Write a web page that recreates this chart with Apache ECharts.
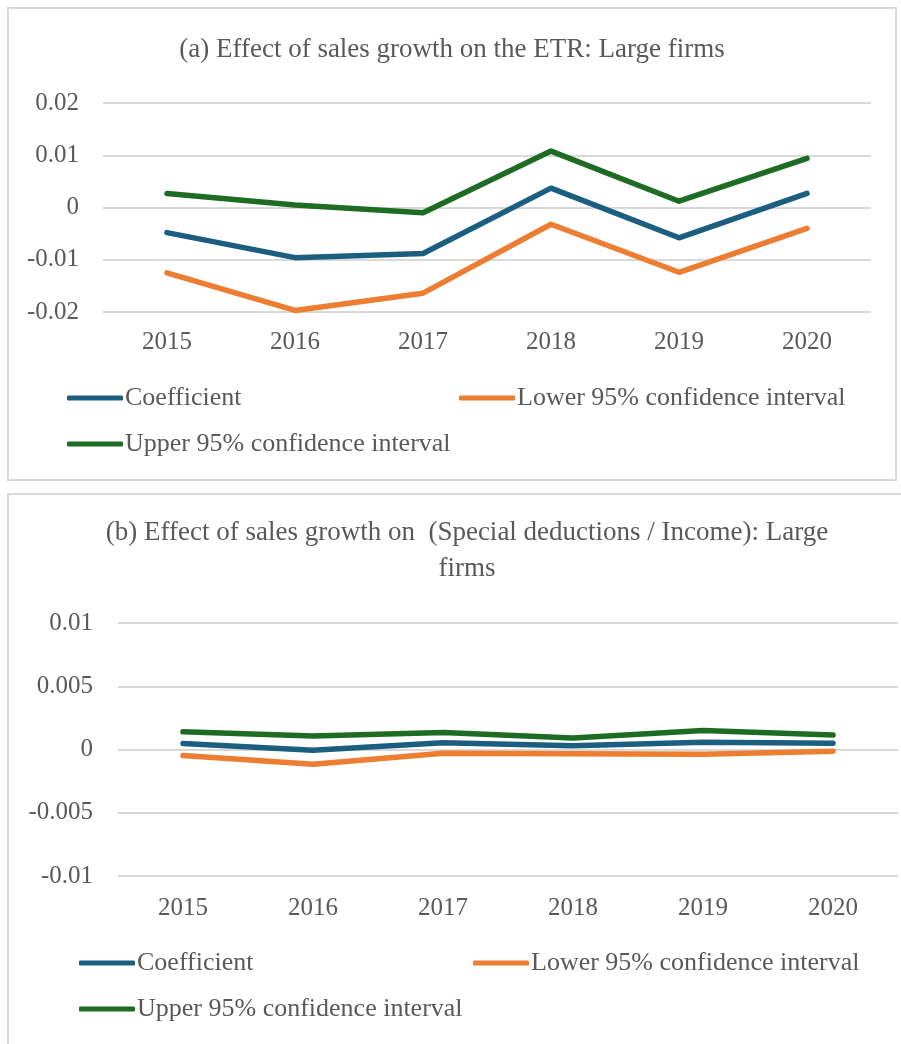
<!DOCTYPE html>
<html>
<head>
<meta charset="utf-8">
<script src="https://cdn.jsdelivr.net/npm/echarts@6/dist/echarts.min.js"></script>
<style>
  * { margin: 0; padding: 0; }
  body { width: 901px; height: 1044px; overflow: hidden; background: #fff; position: relative; }
  .box { position: absolute; border: 2px solid #d9d9d9; box-sizing: border-box; background: #fff; }
</style>
</head>
<body>
<div id="chartA" class="box" style="left: 7px; top: 7px; width: 890px; height: 474px;"></div>
<div id="chartB" class="box" style="left: 7px; top: 493px; width: 920px; height: 580px;"></div>
<script>
  const years = ['2015', '2016', '2017', '2018', '2019', '2020']
  const seriesNames = ['Coefficient', 'Lower 95% confidence interval', 'Upper 95% confidence interval']
  const colors = ['#1b5e80', '#ed7d31', '#1e6b24']

  // (a) ETR
  const etrCoef = [-0.0048, -0.0096, -0.0088, 0.0037, -0.0058, 0.0027]
  const etrLower = [-0.0125, -0.0197, -0.0164, -0.0032, -0.0124, -0.0040]
  const etrUpper = [0.0027, 0.0005, -0.0010, 0.0108, 0.0012, 0.0094]

  // (b) Special deductions / Income
  const dedCoef = [0.00048, -0.00005, 0.00053, 0.00030, 0.00058, 0.00050]
  const dedLower = [-0.00048, -0.00116, -0.00030, -0.00034, -0.00037, -0.00013]
  const dedUpper = [0.00140, 0.00106, 0.00135, 0.00090, 0.00150, 0.00114]

  const font = '"Liberation Serif", "DejaVu Serif", serif'
  const grey = '#595959'

  function legends(left1, left2, top1, top2) {
    const base = {
      icon: 'roundRect',
      itemWidth: 56,
      itemHeight: 5,
      itemGap: 0,
      textStyle: {fontFamily: font, fontSize: 26, color: grey, padding: [0, 0, 0, -3]}
    }
    return [
      Object.assign({data: [seriesNames[0]], left: left1, top: top1}, base),
      Object.assign({data: [seriesNames[1]], left: left2, top: top1}, base),
      Object.assign({data: [seriesNames[2]], left: left1, top: top2}, base)
    ]
  }

  function makeSeries(values) {
    return values.map(function (v, i) {
      return {
        name: seriesNames[i],
        type: 'line',
        data: v,
        showSymbol: false,
        symbol: 'none',
        color: colors[i],
        lineStyle: {width: 5.5, color: colors[i], cap: 'round', join: 'round'}
      }
    })
  }

  function xAxis(margin) {
    return {
      type: 'category',
      data: years,
      boundaryGap: true,
      axisLine: {show: false},
      axisTick: {show: false},
      axisLabel: {fontFamily: font, fontSize: 25, color: grey, margin: margin}
    }
  }

  function yAxis(min, max, interval, margin) {
    return {
      type: 'value',
      min: min,
      max: max,
      interval: interval,
      axisLine: {show: false},
      axisTick: {show: false},
      splitLine: {lineStyle: {color: '#d9d9d9', width: 2}},
      axisLabel: {fontFamily: font, fontSize: 25, color: grey, margin: margin}
    }
  }

  let chartA = echarts.init(document.getElementById('chartA'), null, {renderer: 'canvas'})
  chartA.setOption({
    animation: false,
    title: {
      text: '(a) Effect of sales growth on the ETR: Large firms',
      left: 'center',
      top: 22,
      textStyle: {fontFamily: font, fontSize: 27, fontWeight: 'normal', color: grey}
    },
    legend: legends(53, 445, 371, 417),
    grid: {left: 94, right: 24, top: 94, height: 209},
    xAxis: xAxis(18),
    yAxis: yAxis(-0.02, 0.02, 0.01, 24),
    series: makeSeries([etrCoef, etrLower, etrUpper])
  })

  let chartB = echarts.init(document.getElementById('chartB'), null, {renderer: 'canvas'})
  chartB.setOption({
    animation: false,
    title: {
      text: '(b) Effect of sales growth on  (Special deductions / Income): Large\nfirms',
      left: 'center',
      top: 15,
      textStyle: {fontFamily: font, fontSize: 27, fontWeight: 'normal', color: grey, lineHeight: 36}
    },
    legend: legends(65, 459, 450, 496),
    grid: {left: 109, right: 27, top: 128, height: 253},
    xAxis: xAxis(20),
    yAxis: yAxis(-0.01, 0.01, 0.005, 25),
    series: makeSeries([dedCoef, dedLower, dedUpper])
  })
</script>
</body>
</html>
